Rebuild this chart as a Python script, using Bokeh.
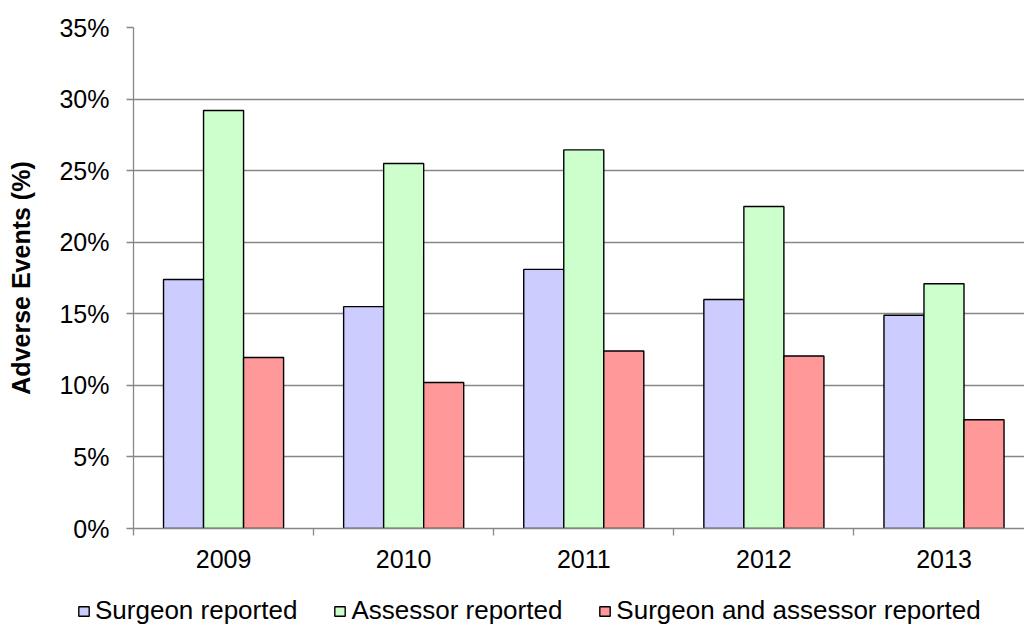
import numpy as np
from bokeh.plotting import figure
from bokeh.layouts import column
from bokeh.models import (Range1d, FixedTicker, PrintfTickFormatter, Legend,
                          LegendItem, ColumnDataSource)
from bokeh.embed import file_html
from bokeh.resources import INLINE

years = ["2009", "2010", "2011", "2012", "2013"]
series_names = ["Surgeon reported", "Assessor reported", "Surgeon and assessor reported"]
surgeon = [17.4, 15.5, 18.1, 16.0, 14.9]
assessor = [29.2, 25.5, 26.45, 22.5, 17.1]
both = [11.95, 10.2, 12.4, 12.05, 7.6]
colors = ["#CCCCFF", "#CCFFCC", "#FF9999"]
y_ticks = [0, 5, 10, 15, 20, 25, 30, 35]

FONT = "Liberation Sans"
GRID = "#878787"

p = figure(width=1024, height=590, output_backend="svg", toolbar_location=None,
           x_range=Range1d(0, 4.947), y_range=Range1d(0, 35),
           min_border_left=133, min_border_top=27, min_border_bottom=62,
           min_border_right=0)
p.outline_line_color = None
p.background_fill_color = "white"
p.border_fill_color = "white"

centers = np.arange(len(years)) + 0.5
bw = 2.0 / 9.0
offsets = [-bw, 0.0, bw]
series = [surgeon, assessor, both]
for vals, off, col in zip(series, offsets, colors):
    src = ColumnDataSource(dict(x=centers + off, top=vals))
    p.vbar(x="x", top="top", bottom=0, width=bw, source=src,
           fill_color=col, line_color="black", line_width=1.4)

# y axis
p.yaxis.ticker = FixedTicker(ticks=y_ticks)
p.yaxis.formatter = PrintfTickFormatter(format="%d%%")
p.yaxis.axis_line_color = GRID
p.yaxis.axis_line_width = 1.3
p.yaxis.major_tick_line_color = GRID
p.yaxis.major_tick_line_width = 1.3
p.yaxis.major_tick_out = 7
p.yaxis.major_tick_in = 0
p.yaxis.minor_tick_line_color = None
p.yaxis.major_label_standoff = 17
p.yaxis.major_label_text_font = FONT
p.yaxis.major_label_text_font_size = "25px"
p.yaxis.major_label_text_color = "black"
p.yaxis.axis_label = "Adverse Events (%)"
p.yaxis.axis_label_text_font = FONT
p.yaxis.axis_label_text_font_style = "bold"
p.yaxis.axis_label_text_font_size = "25px"
p.yaxis.axis_label_text_color = "black"
p.yaxis.axis_label_standoff = 21

# x axis: labels at centers, tick marks at category boundaries
p.xaxis.ticker = FixedTicker(ticks=list(centers),
                             minor_ticks=list(range(len(years))))
p.xaxis.major_label_overrides = {float(c): y for c, y in zip(centers, years)}
p.xaxis.axis_line_color = GRID
p.xaxis.axis_line_width = 1.3
p.xaxis.major_tick_line_color = None
p.xaxis.major_tick_out = 0
p.xaxis.major_tick_in = 0
p.xaxis.minor_tick_line_color = GRID
p.xaxis.minor_tick_line_width = 1.3
p.xaxis.minor_tick_out = 7
p.xaxis.minor_tick_in = 0
p.xaxis.major_label_standoff = 14
p.xaxis.major_label_text_font = FONT
p.xaxis.major_label_text_font_size = "25px"
p.xaxis.major_label_text_color = "black"

p.xgrid.grid_line_color = None
p.ygrid.grid_line_color = GRID
p.ygrid.grid_line_width = 1.3

# legend strip below the chart (its own frame spans the full width)
lg = figure(width=1024, height=36, output_backend="svg", toolbar_location=None,
            x_axis_type=None, y_axis_type=None, min_border=0,
            x_range=Range1d(0, 4.947), y_range=Range1d(0, 35))
lg.frame_align = False
lg.outline_line_color = None
lg.grid.visible = False
items = []
for name, vals, off, col in zip(series_names, series, offsets, colors):
    src = ColumnDataSource(dict(x=centers + off, top=vals))
    r = lg.vbar(x="x", top="top", bottom=0, width=bw, source=src,
                fill_color=col, line_color="black", line_width=1.4)
    r.visible = False
    items.append(LegendItem(label=name, renderers=[r]))
legend = Legend(items=items, orientation="horizontal", location=(77, 0),
                glyph_width=13, glyph_height=12, label_standoff=5, spacing=36,
                padding=0, margin=0, border_line_color=None,
                background_fill_alpha=0, inactive_fill_alpha=0,
                label_text_font=FONT, label_text_font_size="26px",
                label_text_color="black")
lg.add_layout(legend, "center")

layout = column(p, lg, spacing=0)
open("out.html", "w").write(file_html(layout, INLINE))
